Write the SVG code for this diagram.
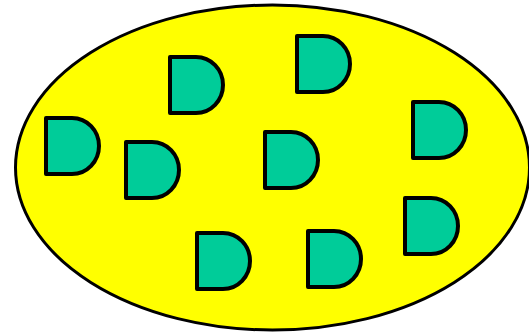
<svg xmlns="http://www.w3.org/2000/svg" width="529" height="332" viewBox="0 0 529 332">
<style>
.g{fill:#00CC99;stroke:#000;stroke-width:4;stroke-linejoin:round}
</style>
<defs>
<path id="d" d="M0,0 H26 A27,28 0 0 1 26,56 H0 Z"/>
</defs>
<g id="set"><ellipse cx="272.5" cy="167.5" rx="257" ry="162.5" fill="#FFFF00" stroke="#000" stroke-width="3"/></g>
<g id="connectors"></g>
<g id="gate1"><use href="#d" class="g" x="46" y="118"/></g>
<g id="gate2"><use href="#d" class="g" x="126" y="142"/></g>
<g id="gate3"><use href="#d" class="g" x="170" y="57"/></g>
<g id="gate4"><use href="#d" class="g" x="297" y="36"/></g>
<g id="gate5"><use href="#d" class="g" x="265" y="132"/></g>
<g id="gate6"><use href="#d" class="g" x="413" y="102"/></g>
<g id="gate7"><use href="#d" class="g" x="405" y="198"/></g>
<g id="gate8"><use href="#d" class="g" x="197" y="233"/></g>
<g id="gate9"><use href="#d" class="g" x="308" y="231"/></g>
</svg>
